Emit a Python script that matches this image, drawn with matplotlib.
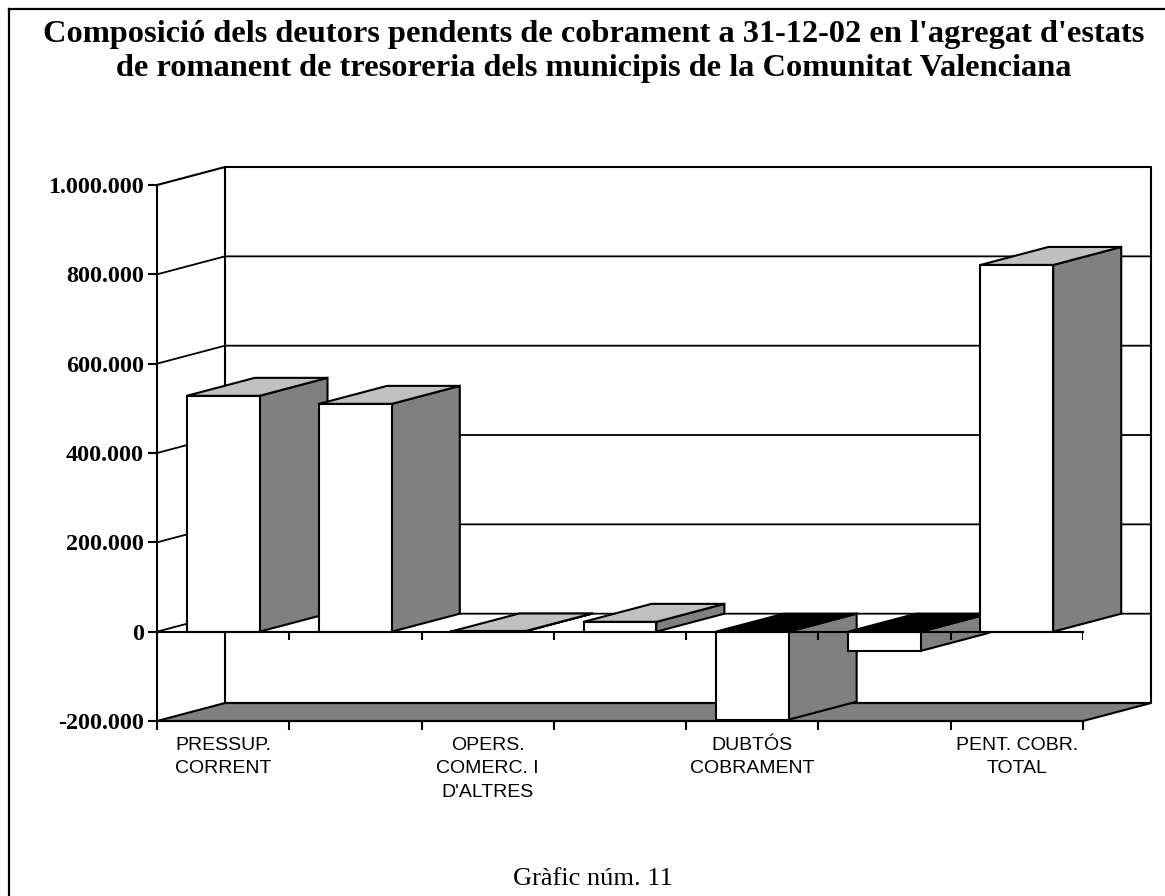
import matplotlib
matplotlib.use("Agg")
import matplotlib.pyplot as plt
from matplotlib.patches import Polygon
from matplotlib.lines import Line2D

W, H = 1165, 896

# data
categories = ["PRESSUP.\nCORRENT", "", "OPERS.\nCOMERC. I\nD'ALTRES", "",
              "DUBTÓS\nCOBRAMENT", "", "PENT. COBR.\nTOTAL"]
values = [528000, 510000, 500, 22000, -197000, -43000, 821000]
ytick_values = [-200000, 0, 200000, 400000, 600000, 800000, 1000000]
ytick_labels = ["-200.000", "0", "200.000", "400.000", "600.000", "800.000", "1.000.000"]

title = ("Composició dels deutors pendents de cobrament a 31-12-02 en l'agregat d'estats\n"
         "de romanent de tresoreria dels municipis de la Comunitat Valenciana")
caption = "Gràfic núm. 11"

# 3d look: how far the back wall is shifted from the front plane
depth_x = 68 / 132.3
depth_y = 18 / 447 * 1000000
bar_width = 0.55
lw = 1.5

fig = plt.figure(figsize=(W / 100, H / 100), dpi=100)
ax = fig.add_axes([157 / W, 1 - 721 / H, (1083 - 157) / W, (721 - 185) / H])
ax.set_xlim(0, len(values))
ax.set_ylim(-200000, 1000000)

# frame around the picture (only top and left show up)
fig.add_artist(Line2D([8.5 / W, 8.5 / W], [0, 1 - 9 / H], color="k", lw=1.6))
fig.add_artist(Line2D([8.5 / W, 1], [1 - 9 / H, 1 - 9 / H], color="k", lw=1.6))

n = len(values)
ymin, ymax = -200000, 1000000

# floor
ax.add_patch(Polygon([(0, ymin), (n, ymin), (n + depth_x, ymin + depth_y), (depth_x, ymin + depth_y)],
                     fc="#808080", ec="k", lw=lw, zorder=1, clip_on=False))

# back wall and side wall
ax.plot([depth_x, depth_x, n + depth_x, n + depth_x, depth_x],
        [ymin + depth_y, ymax + depth_y, ymax + depth_y, ymin + depth_y, ymin + depth_y],
        color="k", lw=lw, zorder=1, clip_on=False)
ax.plot([0, depth_x], [ymax, ymax + depth_y], color="k", lw=lw, zorder=1, clip_on=False)

# grid lines on both walls
for v in ytick_values[1:-1]:
    ax.plot([0, depth_x, n + depth_x], [v, v + depth_y, v + depth_y],
            color="k", lw=1.3, zorder=1, clip_on=False)

# bars, left to right so each one covers the side of the one before
for i, v in enumerate(values):
    z = 3 + i
    left = i + 0.5 - bar_width / 2
    right = i + 0.5 + bar_width / 2
    top_color = "#c0c0c0" if v > 0 else "k"
    ax.add_patch(Polygon([(right, 0), (right + depth_x, depth_y), (right + depth_x, v + depth_y), (right, v)],
                         fc="#808080", ec="k", lw=lw, zorder=z, clip_on=False))
    top = max(v, 0)
    ax.add_patch(Polygon([(left, top), (right, top), (right + depth_x, top + depth_y), (left + depth_x, top + depth_y)],
                         fc=top_color, ec="k", lw=lw, zorder=z, clip_on=False))
    ax.bar(i + 0.5, v, width=bar_width, color="w", edgecolor="k", lw=lw, zorder=z + 0.5, clip_on=False)

# axes and ticks
for s in ["top", "right"]:
    ax.spines[s].set_visible(False)
for s in ["left", "bottom"]:
    ax.spines[s].set_linewidth(lw)
    ax.spines[s].set_zorder(2)

ax.set_yticks(ytick_values)
ax.set_yticklabels(ytick_labels, family="Liberation Serif", fontweight="bold", fontsize=17.4)
ax.set_xticks(range(n + 1))
ax.set_xticklabels([])
ax.tick_params(axis="both", which="major", length=6.5, width=lw, pad=3)
ax.patch.set_alpha(0)

# category names sit under the middle of each band, no tick marks
ax.set_xticks([i + 0.5 for i in range(n)], minor=True)
ax.set_xticklabels(categories, minor=True, family="Liberation Sans", fontsize=14,
                   linespacing=1.5, va="top")
ax.tick_params(axis="x", which="minor", length=0, pad=11.5)

# the zero line with its own ticks, in front of the bars
ax.plot([0, n], [0, 0], color="k", lw=lw, zorder=20, clip_on=False)
ax.vlines(range(n + 1), -18000, 0, color="k", lw=lw, zorder=20)

fig.text(593.5 / W, 1 - 19.6 / H, title, ha="center", va="top", family="Liberation Serif",
         fontweight="bold", fontsize=23.3, linespacing=1.26)
fig.text(593 / W, 1 - 885 / H, caption, ha="center", va="baseline", family="Liberation Serif", fontsize=19)

fig.savefig("out.png", dpi=100, facecolor="w")
